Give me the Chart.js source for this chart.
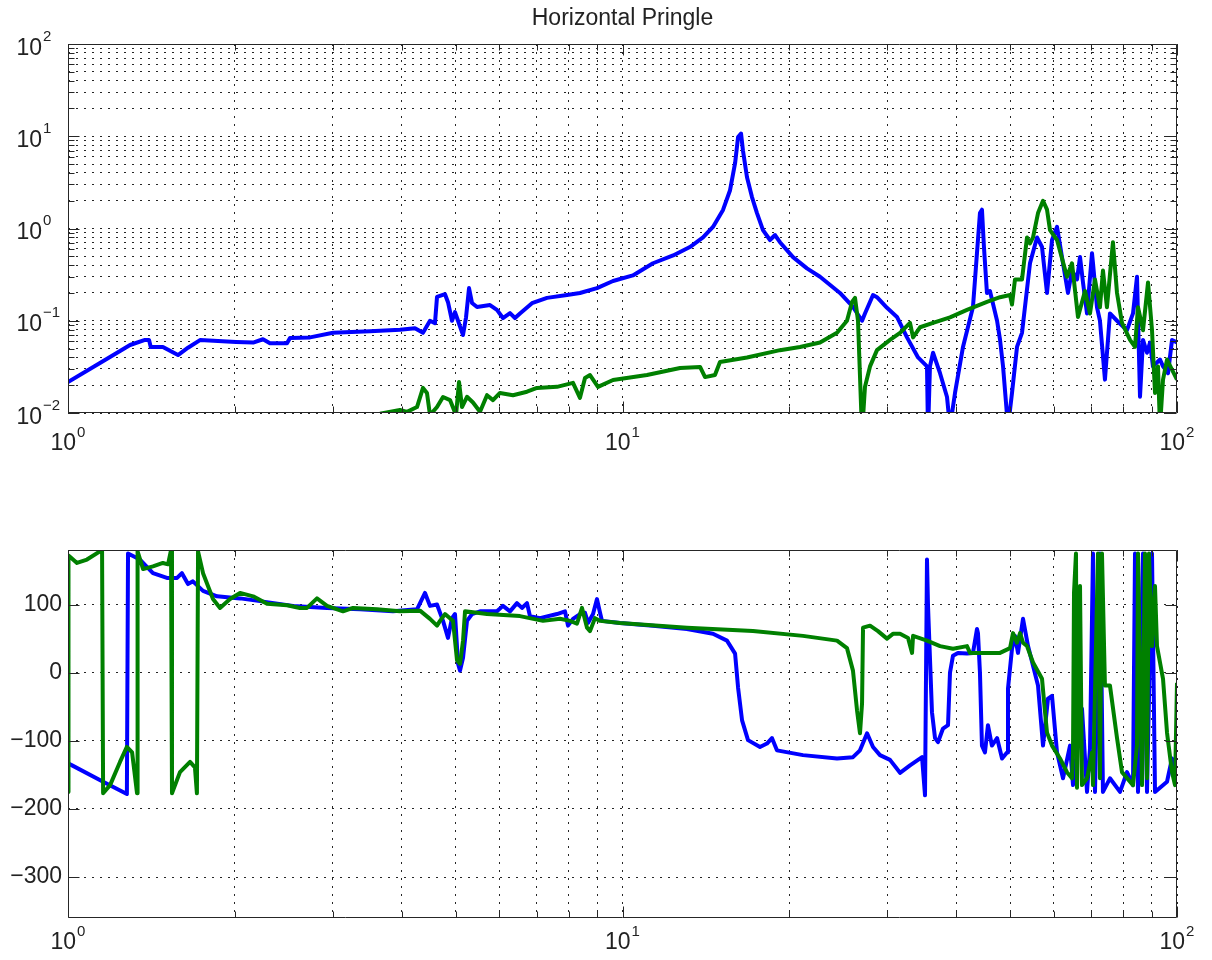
<!DOCTYPE html>
<html>
<head>
<meta charset="utf-8">
<title>Horizontal Pringle</title>
<script src="https://cdn.jsdelivr.net/npm/chart.js@4.4.1/dist/chart.umd.min.js"></script>
<style>
  html, body { margin: 0; padding: 0; background: #fff; }
  #wrap { position: relative; width: 1212px; height: 960px; }
  canvas { position: absolute; left: 0; }
  #mag { top: 0; }
  #phase { top: 460px; }
</style>
</head>
<body>
<div id="wrap">
  <canvas id="mag" width="1212" height="460"></canvas>
  <canvas id="phase" width="1212" height="500"></canvas>
</div>
<script>
const FONT = "'Liberation Sans', Arial, Helvetica, sans-serif";
const INK = '#222';
const GRID = 'rgba(0,0,0,0.85)';
const BLUE = '#0000ff';
const GREEN = '#008000';

// tick labels
const freqDecades = [1, 10, 100];
const freqDecadeExp = ['0', '1', '2'];
const magDecades = [0.01, 0.1, 1, 10, 100];
const magDecadeExp = ['\u22122', '\u22121', '0', '1', '2'];
const phaseTicks = [-300, -200, -100, 0, 100];

// magnitude, blue trace (Hz, gain)
const blueMagFreq = [1.000,1.142,1.294,1.377,1.400,1.410,1.483,1.579,1.646,1.730,
  2.009,2.157,2.247,2.313,2.483,2.514,2.732,3.006,3.504,3.970,
  4.224,4.367,4.496,4.590,4.629,4.785,4.845,4.926,4.988,5.051,
  5.157,5.222,5.287,5.353,5.466,5.768,5.937,6.087,6.268,6.399,
  6.533,6.867,7.309,7.942,8.381,8.995,9.614,10.44,11.35,12.34,
  13.23,13.97,14.56,15.18,15.63,15.96,16.16,16.36,16.49,16.77,
  17.12,17.48,17.92,18.45,18.84,19.23,20.30,21.51,22.71,24.67,
  26.04,27.04,27.37,28.30,28.77,29.99,31.26,32.59,34.12,35.41,
  35.56,35.85,36.31,37.38,38.48,38.96,39.78,41.12,42.86,44.12,
  44.49,44.86,45.42,45.99,47.37,47.96,48.56,49.57,50.40,51.46,
  52.54,54.31,55.92,57.09,58.29,59.51,60.76,62.29,63.59,64.66,
  66.02,66.85,67.68,68.82,70.26,70.55,71.73,72.62,74.14,75.70,
  77.95,81.25,83.30,84.70,85.76,86.84,88.29,89.40,90.51,93.18,
  94.36,96.34,97.95,100];
const blueMag = [0.0217,0.0348,0.0546,0.062,0.062,0.052,0.052,0.0425,0.051,0.0617,
  0.059,0.058,0.063,0.057,0.057,0.065,0.066,0.074,0.077,0.08,
  0.083,0.074,0.1,0.094,0.181,0.194,0.159,0.1,0.124,0.1,
  0.07,0.109,0.226,0.156,0.141,0.148,0.131,0.107,0.121,0.107,
  0.12,0.155,0.177,0.19,0.2,0.226,0.27,0.31,0.42,0.51,
  0.63,0.8,1.04,1.59,2.6,5.1,9.8,10.7,7,3.6,
  2.19,1.47,0.96,0.75,0.85,0.71,0.49,0.37,0.3,0.2,
  0.141,0.1,0.12,0.19,0.18,0.138,0.11,0.066,0.04,0.032,
  0.006,0.032,0.045,0.027,0.0149,0.007,0.0165,0.052,0.141,1.47,
  1.6,0.63,0.2,0.21,0.1,0.062,0.032,0.007,0.0165,0.052,
  0.074,0.42,0.8,0.63,0.2,0.75,1.04,0.42,0.2,0.35,
  0.28,0.49,0.26,0.12,0.54,0.42,0.14,0.1,0.023,0.12,
  0.1,0.079,0.12,0.3,0.015,0.062,0.045,0.058,0.032,0.038,
  0.032,0.027,0.062,0.058];

// magnitude, green trace
const greenMagFreq = [3.653,3.970,4.087,4.260,4.367,4.440,4.496,4.629,4.746,4.886,
  5.009,5.072,5.135,5.243,5.375,5.534,5.697,5.840,6.012,6.346,
  6.726,7.011,7.619,8.142,8.381,8.558,8.738,9.033,9.614,11.07,
  12.70,13.80,14.09,14.68,14.99,16.77,19.23,20.90,22.71,24.37,
  25.40,25.94,26.26,26.59,27.04,27.37,27.95,28.77,30.37,31.66,
  33.00,33.42,34.40,36.31,38.96,41.81,45.42,47.96,49.99,50.40,
  51.03,52.54,53.64,54.31,55.00,56.15,57.33,58.29,59.02,60.76,
  63.33,64.66,66.29,68.25,69.68,71.14,72.62,73.53,74.76,76.64,
  77.95,79.58,82.27,84.00,85.05,86.84,88.66,90.14,91.27,92.41,
  93.18,94.36,95.94,100];
const greenMag = [0.0098,0.0108,0.0103,0.0116,0.0187,0.0165,0.0095,0.0116,0.0149,0.0138,
  0.0095,0.0217,0.0116,0.015,0.013,0.0103,0.0156,0.0138,0.0165,0.0156,
  0.017,0.0187,0.0192,0.0212,0.0146,0.024,0.0258,0.0192,0.0228,0.0258,
  0.0308,0.0316,0.0245,0.0258,0.0357,0.04,0.048,0.052,0.058,0.074,
  0.1,0.16,0.177,0.1,0.006,0.0192,0.032,0.048,0.062,0.074,
  0.095,0.066,0.085,0.095,0.109,0.131,0.16,0.18,0.19,0.15,
  0.28,0.28,0.8,0.69,0.8,1.47,2.0,1.6,0.96,0.75,
  0.3,0.42,0.11,0.21,0.12,0.28,0.14,0.35,0.14,0.71,
  0.2,0.095,0.062,0.052,0.14,0.079,0.26,0.079,0.0165,0.032,
  0.007,0.023,0.038,0.023];

// phase, blue trace (Hz, degrees)
const bluePhaseFreq = [1.000,1.017,1.157,1.277,1.283,1.348,1.423,1.508,1.573,1.605,
  1.646,1.680,1.752,1.857,2.043,2.220,2.545,2.932,3.363,3.856,
  4.260,4.404,4.496,4.629,4.746,4.845,4.926,4.988,5.051,5.093,
  5.157,5.243,5.353,5.534,5.937,6.087,6.268,6.452,6.587,6.726,
  6.810,7.099,7.619,7.876,7.975,8.142,8.381,8.558,8.666,8.848,
  8.995,9.109,9.184,9.897,11.35,13.07,14.56,15.43,15.96,16.16,
  16.43,16.84,17.70,18.22,18.60,18.99,21.16,24.37,26.04,26.81,
  27.61,28.30,29.13,30.37,31.66,33.00,34.69,35.12,35.41,35.56,
  36.15,36.61,37.07,37.84,38.64,38.96,39.45,40.27,41.81,42.86,
  43.58,43.76,44.12,44.49,45.05,45.61,46.37,47.37,48.36,49.37,
  49.57,50.40,51.03,51.67,52.76,53.87,55.00,56.15,57.33,58.53,
  59.51,60.76,62.29,64.13,64.93,67.40,68.82,69.68,70.55,71.14,
  72.62,73.53,75.70,78.93,81.25,83.30,84.00,85.05,86.84,88.29,
  90.14,91.27,95.94,97.95,100];
const bluePhase = [-133,-136,-160,-178,175,166,146,139,139,146,
  130,134,120,112,109,105,98,95,93,90,
  93,117,98,100,76,51,80,86,13,3,
  22,76,86,90,90,98,90,102,95,102,
  83,80,86,90,69,79,86,88,73,86,
  108,88,76,73,69,64,57,47,28,-22,
  -70,-99,-109,-104,-96,-114,-121,-126,-124,-114,
  -89,-109,-121,-128,-147,-136,-124,-180,166,98,
  -58,-96,-102,-82,-77,0,25,29,28,29,
  64,58,0,-107,-117,-77,-107,-96,-126,-117,
  -23,35,54,29,79,39,10,-19,-107,-38,
  -34,-117,-155,-107,-165,-53,-175,-111,175,-175,
  175,-175,-155,-175,-146,-165,175,-175,175,-175,
  175,-175,-160,-126,-155];

// phase, green trace
const greenPhaseFreq = [1.000,1.002,1.038,1.082,1.142,1.152,1.157,1.191,1.241,1.277,
  1.305,1.332,1.335,1.366,1.423,1.483,1.515,1.534,1.540,1.592,
  1.660,1.694,1.708,1.716,1.752,1.826,1.880,1.960,2.043,2.157,
  2.285,2.483,2.620,2.698,2.812,2.932,3.133,3.266,3.607,3.970,
  4.313,4.496,4.629,4.687,4.785,4.947,5.030,5.093,5.157,5.200,
  5.697,6.533,7.189,7.715,8.041,8.278,8.452,8.630,8.738,8.921,
  9.109,9.897,13.07,17.19,21.16,24.37,25.40,26.04,26.48,26.81,
  27.04,27.15,27.95,28.89,29.99,30.74,31.66,32.73,33.28,33.42,
  35.41,37.38,39.45,41.81,42.33,47.96,49.99,50.61,51.46,52.11,
  52.76,53.64,55.00,57.09,57.81,58.29,59.51,61.52,63.33,64.66,
  64.93,65.20,65.74,66.02,66.85,67.40,68.82,70.26,70.55,72.03,
  72.62,73.23,74.14,75.70,77.95,79.58,83.30,84.70,85.05,86.48,
  87.56,88.29,89.02,90.14,91.27,92.03,94.36,95.94,97.95,99.18,
  100];
const greenPhase = [-175,172,161,166,178,178,-177,-165,-131,-109,
  -117,-177,178,152,156,161,159,180,-177,-146,
  -131,-139,-177,178,146,108,95,108,117,112,
  101,99,95,95,109,98,90,95,93,90,
  91,79,69,76,86,76,18,13,47,90,
  86,83,76,79,76,72,95,66,61,80,
  76,73,66,61,54,47,36,3,-55,-89,
  -45,66,69,61,50,57,57,51,29,54,
  47,39,35,39,29,29,36,58,44,58,
  44,39,15,-9,-58,-88,-107,-126,-146,-155,
  -117,117,175,-169,127,-165,-155,-117,-165,175,
  -155,175,-19,-19,-96,-146,-165,-107,175,-165,
  175,-155,175,39,127,39,-9,-88,-146,-165,
  -15];

// 2..9 inside each decade, for the dotted minor grid
const minorsOf = decades => decades.slice(0, -1)
  .flatMap(d => [2, 3, 4, 5, 6, 7, 8, 9].map(k => +(d * k).toPrecision(3)));
const freqMinor = minorsOf(freqDecades);
const magMinor = minorsOf(magDecades);

const pts = (xs, ys) => xs.map((x, i) => ({ x, y: ys[i] }));

// MATLAB-ish box: inward ticks on all four sides and 10^n labels
const matlabBox = {
  id: 'matlabBox',
  afterDraw(chart, args, o) {
    const { ctx, chartArea: a } = chart;
    const sx = chart.scales.x, sy = chart.scales.y;
    const L = Math.round(a.left) + 0.5, R = Math.round(a.right) - 0.5;
    const T = Math.round(a.top) + 0.5, B = Math.round(a.bottom) - 0.5;
    ctx.save();
    ctx.strokeStyle = '#262626';
    ctx.lineWidth = 1;
    ctx.setLineDash([]);
    ctx.beginPath();
    const xt = (vals, len) => vals.forEach(v => {
      const p = Math.round(sx.getPixelForValue(v)) + 0.5;
      ctx.moveTo(p, B); ctx.lineTo(p, B - len);
      ctx.moveTo(p, T); ctx.lineTo(p, T + len);
    });
    const yt = (vals, len) => vals.forEach(v => {
      const p = Math.round(sy.getPixelForValue(v)) + 0.5;
      ctx.moveTo(L, p); ctx.lineTo(L + len, p);
      ctx.moveTo(R, p); ctx.lineTo(R - len, p);
    });
    xt(o.xMajor, 11); xt(o.xMinor || [], 6);
    yt(o.yMajor, 11); yt(o.yMinor || [], 6);
    ctx.rect(L, T, R - L, B - T);
    ctx.stroke();

    ctx.fillStyle = INK;
    ctx.textBaseline = 'alphabetic';
    ctx.textAlign = 'left';
    const big = `23px ${FONT}`, small = `15px ${FONT}`;

    o.xMajor.forEach((v, i) => {
      const p = sx.getPixelForValue(v);
      ctx.font = big;
      const wb = ctx.measureText('10').width;
      ctx.font = small;
      const we = ctx.measureText(o.xExp[i]).width;
      const x0 = p - (wb + we + 1) / 2;
      const yb = a.bottom + o.xLabelDy;
      ctx.font = big;
      ctx.fillText('10', x0, yb);
      ctx.font = small;
      ctx.fillText(o.xExp[i], x0 + wb + 1, yb - 13);
    });

    if (o.yExp) {
      o.yMajor.forEach((v, i) => {
        const p = sy.getPixelForValue(v);
        const yb = p + 10.5;
        ctx.font = big;
        ctx.textAlign = 'right';
        ctx.fillText('10', a.left - 26, yb);
        ctx.font = small;
        ctx.textAlign = 'left';
        ctx.fillText(o.yExp[i], a.left - 25, yb - 14);
      });
    }
    ctx.restore();
  }
};

const freqAxis = height => ({
  type: 'logarithmic',
  min: 1,
  max: 100,
  afterBuildTicks: s => { s.ticks = [...freqDecades, ...freqMinor].sort((p, q) => p - q).map(v => ({ value: v })); },
  afterFit: s => { s.height = height; },
  ticks: { display: false },
  grid: { color: GRID, lineWidth: 1, drawTicks: false },
  border: { display: false, dash: [2, 6] },
});

const lineStyle = {
  pointRadius: 0,
  borderWidth: 4,
  borderJoinStyle: 'round',
  tension: 0,
  fill: false,
};

// top: magnitude
new Chart(document.getElementById('mag'), {
  type: 'line',
  data: {
    datasets: [
      { label: 'blue', data: pts(blueMagFreq, blueMag), borderColor: BLUE, order: 2, ...lineStyle },
      { label: 'green', data: pts(greenMagFreq, greenMag), borderColor: GREEN, order: 1, ...lineStyle },
    ],
  },
  options: {
    responsive: false,
    animation: false,
    devicePixelRatio: 1,
    layout: { padding: { left: 0, right: 35, top: 0, bottom: 0 } },
    plugins: {
      legend: { display: false },
      tooltip: { enabled: false },
      title: {
        display: true,
        text: 'Horizontal Pringle',
        fullSize: false,
        color: INK,
        font: { family: FONT, size: 23, weight: 'normal' },
        padding: { top: 5, bottom: 11.4 },
      },
      matlabBox: {
        xMajor: freqDecades, xMinor: freqMinor, xExp: freqDecadeExp, xLabelDy: 37,
        yMajor: magDecades, yMinor: magMinor, yExp: magDecadeExp,
      },
    },
    scales: {
      x: freqAxis(47),
      y: {
        type: 'logarithmic',
        min: 0.01,
        max: 100,
        afterBuildTicks: s => { s.ticks = [...magDecades, ...magMinor].sort((p, q) => p - q).map(v => ({ value: v })); },
        afterFit: s => { s.width = 68; },
        ticks: { display: false },
        grid: { color: GRID, lineWidth: 1, drawTicks: false },
        border: { display: false, dash: [2, 6] },
      },
    },
  },
  plugins: [matlabBox],
});

// bottom: phase
new Chart(document.getElementById('phase'), {
  type: 'line',
  data: {
    datasets: [
      { label: 'blue', data: pts(bluePhaseFreq, bluePhase), borderColor: BLUE, order: 2, ...lineStyle },
      { label: 'green', data: pts(greenPhaseFreq, greenPhase), borderColor: GREEN, order: 1, ...lineStyle },
    ],
  },
  options: {
    responsive: false,
    animation: false,
    devicePixelRatio: 1,
    layout: { padding: { left: 0, right: 35, top: 90, bottom: 0 } },
    plugins: {
      legend: { display: false },
      tooltip: { enabled: false },
      matlabBox: {
        xMajor: freqDecades, xMinor: freqMinor, xExp: freqDecadeExp, xLabelDy: 31,
        yMajor: phaseTicks,
      },
    },
    scales: {
      x: freqAxis(42),
      y: {
        type: 'linear',
        min: -360,
        max: 180,
        afterBuildTicks: s => { s.ticks = phaseTicks.map(v => ({ value: v })); },
        afterFit: s => { s.width = 68; },
        ticks: {
          color: INK,
          padding: 6,
          font: { family: FONT, size: 23 },
          callback: v => String(v).replace('-', '\u2212'),
        },
        grid: { color: GRID, lineWidth: 1, drawTicks: false },
        border: { display: false, dash: [2, 6] },
      },
    },
  },
  plugins: [matlabBox],
});
</script>
</body>
</html>
